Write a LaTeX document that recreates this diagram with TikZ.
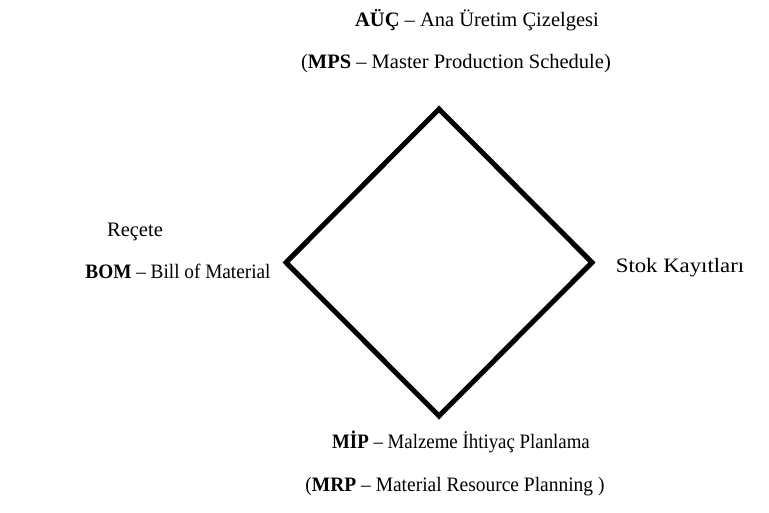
\documentclass[tikz,border=0pt]{standalone}
\usepackage{fontspec}
\setmainfont{Liberation Serif}
\usetikzlibrary{shapes.geometric}
\begin{document}
\begin{tikzpicture}[x=1pt,y=-1pt,
  label text/.style={inner sep=0pt,font=\fontsize{20.5}{24}\selectfont,anchor=base},
  frame/.style={draw=black,line width=5pt,shape=diamond,inner sep=0pt,
    minimum width=308pt,minimum height=309pt,line join=miter}]
  \useasboundingbox (0,0) rectangle (769,513);
  % central diamond
  \node[frame] (dia) at (439,262.5) {};
  % labels around the corners
  \node[label text] (aucline) at (477,27) {\textbf{AÜÇ} – Ana Üretim Çizelgesi};
  \node[label text] (mpsline) at (456,69) {(\textbf{MPS} – Master Production Schedule)};
  \node[label text] (recete) at (135,237) {Reçete};
  \node[label text] (bomline) at (178,279) {\scalebox{0.94}[1]{\textbf{BOM} – Bill of Material}};
  \node[label text] (stok) at (680,273) {\scalebox{1.11}[1]{Stok Kayıtları}};
  \node[label text] (mipline) at (461,448) {\scalebox{0.92}[1]{\textbf{MİP} – Malzeme İhtiyaç Planlama}};
  \node[label text] (mrpline) at (455,491) {\scalebox{0.95}[1]{(\textbf{MRP} – Material Resource Planning )}};
\end{tikzpicture}
\end{document}
